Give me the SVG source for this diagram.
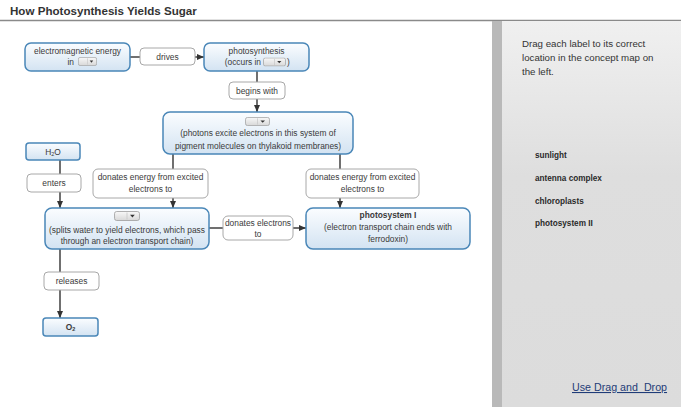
<svg xmlns="http://www.w3.org/2000/svg" xmlns:xlink="http://www.w3.org/1999/xlink" width="681" height="407" viewBox="0 0 681 407">
<style>
text{font-family:"Liberation Sans",Arial,sans-serif;fill:#3a3a3a;font-size:8.4px}
.c{text-anchor:middle}
.b{font-weight:bold}
.node{fill:url(#ng);stroke:#4a87b8;stroke-width:1.5}
.lab{fill:#fff;stroke:#a8a8a8;stroke-width:1}
.edge{stroke:#333;stroke-width:1.4;fill:none}
.arr{marker-end:url(#ah)}
.title{font-size:11.6px;font-weight:bold;fill:#333}
.instr{font-size:9.7px;fill:#333}
.opt{font-size:8.2px;font-weight:bold;fill:#2a2a2a}
.link{font-size:10.7px;fill:#1f3c78;text-decoration:underline}
</style>
<defs>
<linearGradient id="ng" x1="0" y1="0" x2="0" y2="1">
<stop offset="0" stop-color="#fbfdff"/>
<stop offset="1" stop-color="#d3e3f2"/>
</linearGradient>
<linearGradient id="pg" x1="0" y1="0" x2="0" y2="1">
<stop offset="0" stop-color="#f0f0f0"/>
<stop offset="0.4" stop-color="#dedede"/>
<stop offset="1" stop-color="#dcdcdc"/>
</linearGradient>
<linearGradient id="dg" x1="0" y1="0" x2="0" y2="1">
<stop offset="0" stop-color="#f8f8f8"/>
<stop offset="1" stop-color="#d8d8d8"/>
</linearGradient>
<marker id="ah" markerUnits="userSpaceOnUse" markerWidth="7" markerHeight="7" viewBox="0 0 7 7" refX="7" refY="3.5" orient="auto">
<path d="M0,0.5 L7,3.5 L0,6.5 Z" fill="#333"/>
</marker>
<symbol id="dd" viewBox="0 0 24 10" preserveAspectRatio="none">
<rect x="0.5" y="0.5" width="23" height="9" rx="2" fill="url(#dg)" stroke="#a0a0a0" stroke-width="0.8"/>
<line x1="12" y1="1.5" x2="12" y2="8.5" stroke="#c8c8c8" stroke-width="0.8"/>
<path d="M14.8,3.8 L19.2,3.8 L17,6.4 Z" fill="#333"/>
</symbol>
</defs>
<rect width="681" height="407" fill="#fff"/>
<text class="title" x="10" y="15">How Photosynthesis Yields Sugar</text>
<line x1="0" y1="20.5" x2="681" y2="20.5" stroke="#8a8a8a" stroke-width="1.5"/>
<g id="panel">
<rect x="492" y="21" width="10" height="386" fill="#b9b9b9"/>
<rect x="502" y="21" width="179" height="386" fill="url(#pg)"/>
<text class="instr" x="522" y="47">Drag each label to its correct</text>
<text class="instr" x="522" y="61">location in the concept map on</text>
<text class="instr" x="522" y="75">the left.</text>
<text class="opt" x="535" y="158">sunlight</text>
<text class="opt" x="535" y="181">antenna complex</text>
<text class="opt" x="535" y="204">chloroplasts</text>
<text class="opt" x="535" y="226">photosystem II</text>
<text class="link" x="572" y="391" xml:space="preserve">Use Drag and  Drop</text>
</g>
<g id="connectors">
<line class="edge" x1="130" y1="57" x2="140" y2="57"/>
<line class="edge arr" x1="195" y1="57" x2="204" y2="57"/>
<line class="edge" x1="257" y1="71" x2="257" y2="82"/>
<line class="edge arr" x1="257" y1="99" x2="257" y2="112"/>
<line class="edge" x1="173" y1="154" x2="173" y2="169"/>
<line class="edge arr" x1="173" y1="198" x2="173" y2="208"/>
<line class="edge" x1="340" y1="154" x2="340" y2="169"/>
<line class="edge arr" x1="340" y1="198" x2="340" y2="208"/>
<line class="edge" x1="60" y1="160" x2="60" y2="174"/>
<line class="edge arr" x1="60" y1="192" x2="60" y2="208"/>
<line class="edge" x1="209" y1="228" x2="223" y2="228"/>
<line class="edge arr" x1="293" y1="228" x2="306" y2="228"/>
<line class="edge" x1="60" y1="249" x2="60" y2="272"/>
<line class="edge arr" x1="60" y1="290" x2="60" y2="318"/>
</g>
<g id="n-energy">
<rect class="node" x="25" y="43" width="105" height="28" rx="6"/>
<text class="c" x="77.5" y="53.5">electromagnetic energy</text>
<text x="74" y="64.5" text-anchor="end">in</text>
<use xlink:href="#dd" x="78" y="57" width="19" height="9"/>
</g>
<g id="l-drives">
<rect class="lab" x="140" y="48" width="55" height="17" rx="4"/>
<text class="c" x="167.5" y="59.5">drives</text>
</g>
<g id="n-photosynthesis">
<rect class="node" x="204" y="43" width="105" height="28" rx="6"/>
<text class="c" x="256.5" y="53.5">photosynthesis</text>
<text x="261" y="64.5" text-anchor="end">(occurs in</text>
<use xlink:href="#dd" x="263" y="57.5" width="23" height="9"/>
<text x="287" y="64.5">)</text>
</g>
<g id="l-begins">
<rect class="lab" x="229" y="82" width="56" height="17" rx="4"/>
<text class="c" x="257" y="93.5">begins with</text>
</g>
<g id="n-antenna">
<rect class="node" x="163" y="112" width="190" height="42" rx="7"/>
<use xlink:href="#dd" x="245" y="117" width="25" height="9"/>
<text class="c" x="258" y="136">(photons excite electrons in this system of</text>
<text class="c" x="258" y="149">pigment molecules on thylakoid membranes)</text>
</g>
<g id="l-donates-left">
<rect class="lab" x="93" y="169" width="115" height="29" rx="5"/>
<text class="c" x="150.5" y="180">donates energy from excited</text>
<text class="c" x="150.5" y="192">electrons to</text>
</g>
<g id="l-donates-right">
<rect class="lab" x="306" y="169" width="113" height="29" rx="5"/>
<text class="c" x="362.5" y="180">donates energy from excited</text>
<text class="c" x="362.5" y="192">electrons to</text>
</g>
<g id="n-h2o">
<rect class="node" x="26" y="143" width="54" height="17" rx="3"/>
<text class="c" x="53" y="154.5">H<tspan font-size="5.5" dy="1.5">2</tspan><tspan dy="-1.5">O</tspan></text>
</g>
<g id="l-enters">
<rect class="lab" x="27" y="174" width="54" height="18" rx="4"/>
<text class="c" x="54" y="186">enters</text>
</g>
<g id="n-ps2">
<rect class="node" x="45" y="208" width="164" height="41" rx="7"/>
<use xlink:href="#dd" x="114" y="211" width="26" height="10"/>
<text class="c" x="127" y="232.5">(splits water to yield electrons, which pass</text>
<text class="c" x="127" y="244">through an electron transport chain)</text>
</g>
<g id="l-donates-electrons">
<rect class="lab" x="223" y="216" width="70" height="24" rx="5"/>
<text class="c" x="258" y="226">donates electrons</text>
<text class="c" x="258" y="237">to</text>
</g>
<g id="n-ps1">
<rect class="node" x="306" y="208" width="164" height="41" rx="7"/>
<text class="c b" x="388" y="218">photosystem I</text>
<text class="c" x="388" y="230">(electron transport chain ends with</text>
<text class="c" x="388" y="242">ferrodoxin)</text>
</g>
<g id="l-releases">
<rect class="lab" x="44" y="272" width="55" height="18" rx="4"/>
<text class="c" x="71.5" y="284">releases</text>
</g>
<g id="n-o2">
<rect class="node" x="43" y="318" width="55" height="18" rx="3"/>
<text class="c b" x="70.5" y="330">O<tspan font-size="5.5" dy="1">2</tspan></text>
</g>
</svg>
